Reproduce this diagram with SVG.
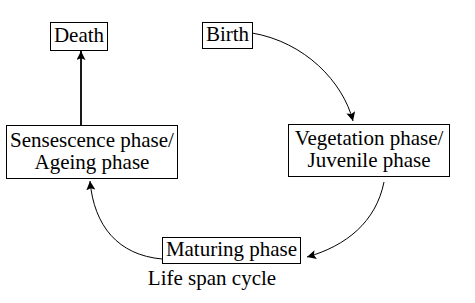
<svg xmlns="http://www.w3.org/2000/svg" width="475" height="303" viewBox="0 0 475 303">
<style>
.box{fill:#fff;stroke:#000;stroke-width:1}
.t{font-family:"Liberation Serif","Times New Roman",serif;font-size:21px;fill:#000;text-anchor:middle}
.c{fill:none;stroke:#000;stroke-width:1}
</style>
<defs>
<marker id="ah" viewBox="0 0 10 10" refX="10" refY="5" markerWidth="9" markerHeight="9" markerUnits="userSpaceOnUse" orient="auto">
<path d="M0,0 L10,5 L0,10 L2,5 Z" fill="#000"/>
</marker>
</defs>
<rect width="475" height="303" fill="#fff"/>
<g id="connectors">
<path class="c" d="M81,125 L81,51" style="stroke-width:1.8" marker-end="url(#ah)"/>
<path class="c" d="M252,33 C305,42 343,82 353,121" marker-end="url(#ah)"/>
<path class="c" d="M384,182 C376,222 346,246 307,257" marker-end="url(#ah)"/>
<path class="c" d="M162,259 C118,255 94,226 90,181" marker-end="url(#ah)"/>
</g>
<g id="death">
<rect class="box" x="50.5" y="22.5" width="57" height="28"/>
<text class="t" x="79" y="42">Death</text>
</g>
<g id="birth">
<rect class="box" x="202.5" y="22.5" width="50" height="26"/>
<text class="t" x="227.5" y="41">Birth</text>
</g>
<g id="vegetation">
<rect class="box" x="288.5" y="124.5" width="161" height="52"/>
<text class="t" x="369" y="145">Vegetation phase/</text>
<text class="t" x="369" y="167">Juvenile phase</text>
</g>
<g id="sensescence">
<rect class="box" x="6.5" y="125.5" width="171" height="53"/>
<text class="t" x="92" y="147">Sensescence phase/</text>
<text class="t" x="92" y="169">Ageing phase</text>
</g>
<g id="maturing">
<rect class="box" x="162.5" y="237.5" width="138" height="26"/>
<text class="t" x="231.5" y="256">Maturing phase</text>
</g>
<text class="t" x="212" y="285">Life span cycle</text>
</svg>
